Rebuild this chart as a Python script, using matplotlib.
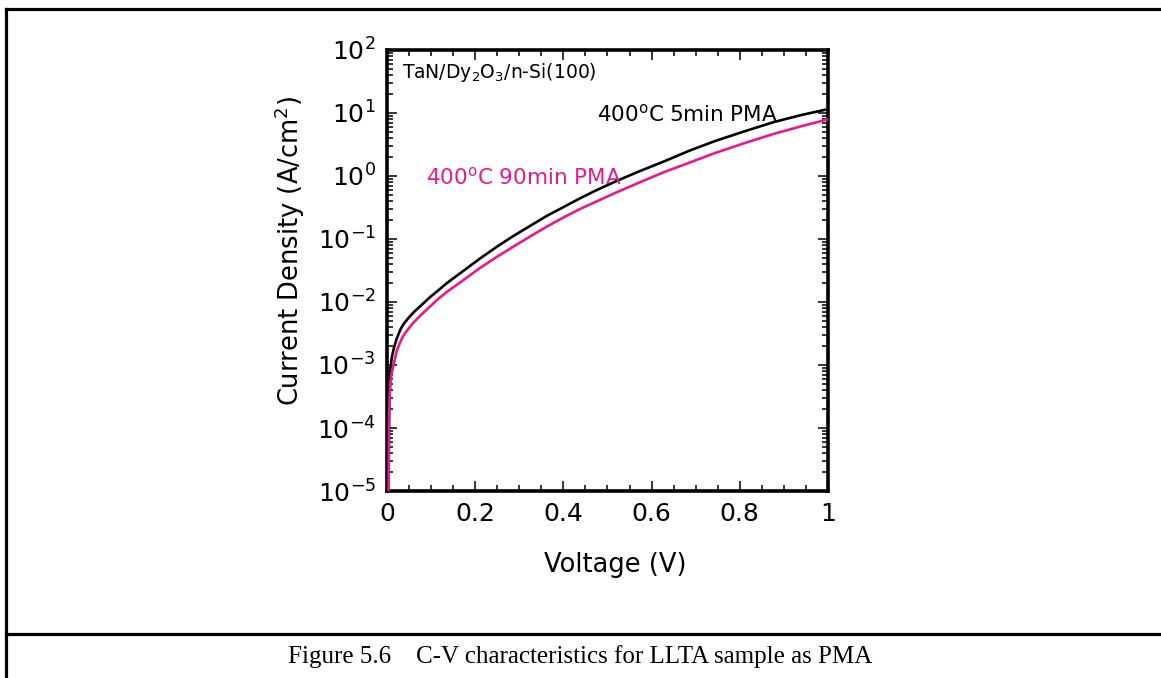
import matplotlib
matplotlib.use("Agg")
import matplotlib.pyplot as plt
from matplotlib.lines import Line2D
from matplotlib.ticker import LogLocator, MultipleLocator, FixedLocator, NullFormatter

# Measured J-V data for the two PMA conditions
v_5min = [0.0035, 0.005, 0.008, 0.011, 0.016, 0.022, 0.030, 0.037, 0.048, 0.060,
          0.078, 0.098, 0.115, 0.136, 0.17, 0.211, 0.25, 0.287, 0.325, 0.363,
          0.40, 0.439, 0.475, 0.514, 0.57, 0.628, 0.685, 0.742, 0.81, 0.878,
          0.94, 1.0]
j_5min = [1e-5, 2e-4, 8.9e-4, 1.32e-3, 1.9e-3, 2.6e-3, 3.6e-3, 4.4e-3, 5.5e-3, 6.8e-3,
          8.9e-3, 1.2e-2, 1.5e-2, 2.0e-2, 3.0e-2, 4.9e-2, 7.6e-2, 0.112, 0.162, 0.234,
          0.32, 0.447, 0.595, 0.794, 1.17, 1.70, 2.51, 3.55, 5.1, 7.2,
          9.3, 11.5]

v_90min = [0.0038, 0.0045, 0.006, 0.008, 0.011, 0.015, 0.022, 0.030, 0.037, 0.048,
           0.060, 0.078, 0.098, 0.115, 0.136, 0.17, 0.211, 0.25, 0.287, 0.325,
           0.363, 0.40, 0.439, 0.475, 0.514, 0.57, 0.628, 0.685, 0.742, 0.81,
           0.878, 0.94, 1.0]
j_90min = [1e-5, 1e-4, 3.2e-4, 5.5e-4, 7.6e-4, 1.0e-3, 1.66e-3, 2.3e-3, 2.9e-3, 3.7e-3,
           4.7e-3, 6.3e-3, 8.5e-3, 1.1e-2, 1.45e-2, 2.14e-2, 3.47e-2, 5.25e-2, 7.59e-2, 0.110,
           0.158, 0.219, 0.302, 0.394, 0.525, 0.776, 1.15, 1.62, 2.29, 3.31,
           4.68, 6.17, 7.94]

x_ticks = [0, 0.2, 0.4, 0.6, 0.8, 1.0]
x_tick_labels = ["0", "0.2", "0.4", "0.6", "0.8", "1"]
y_exponents = [-5, -4, -3, -2, -1, 0, 1, 2]

PINK = "#E8198C"
SANS = "DejaVu Sans"

plt.rcParams["font.family"] = [SANS]
plt.rcParams["mathtext.default"] = "regular"

fig = plt.figure(figsize=(11.61, 6.78), dpi=100)

# Page frame: left and top rules plus the caption separator
for (xs, ys) in [([0.0052, 0.0052], [0.0, 0.987]),
                 ([0.0052, 1.0], [0.987, 0.987]),
                 ([0.0052, 1.0], [0.065, 0.065])]:
    fig.add_artist(Line2D(xs, ys, transform=fig.transFigure, color="black", lw=2.3))

fig.text(0.5, 0.032, "Figure 5.6    C-V characteristics for LLTA sample as PMA",
         ha="center", va="center", fontsize=18, family="Liberation Serif")

ax = fig.add_axes([0.3333, 0.2758, 0.3799, 0.6505])
ax.plot(v_5min, j_5min, color="black", lw=1.9, zorder=3)
ax.plot(v_90min, j_90min, color=PINK, lw=1.9, zorder=4)

ax.set_yscale("log")
ax.set_xlim(0, 1)
ax.set_ylim(1e-5, 1e2)

ax.xaxis.set_major_locator(FixedLocator(x_ticks))
ax.set_xticklabels(x_tick_labels)
ax.xaxis.set_minor_locator(MultipleLocator(0.05))
ax.yaxis.set_major_locator(FixedLocator([10.0 ** e for e in y_exponents]))
ax.set_yticklabels([r"$10^{%d}$" % e for e in y_exponents])
ax.yaxis.set_minor_locator(LogLocator(base=10, subs=range(2, 10), numticks=20))
ax.yaxis.set_minor_formatter(NullFormatter())

ax.tick_params(which="both", direction="in", top=True, right=True, width=1.1)
ax.tick_params(which="major", length=7, labelsize=18, pad=8)
ax.tick_params(which="minor", length=4)
for s in ax.spines.values():
    s.set_linewidth(2.6)

ax.set_xlabel("Voltage (V)", fontsize=18.5)
ax.xaxis.set_label_coords(0.517, -0.138)
ax.set_ylabel("Current Density (A/cm$^{2}$)", fontsize=18.5)
ax.yaxis.set_label_coords(-0.181, 0.544)

ax.text(0.035, 0.95, "TaN/Dy$_{2}$O$_{3}$/n-Si(100)", transform=ax.transAxes,
        fontsize=13.5, ha="left", va="center")
ax.text(0.477, 0.855, "400$^{o}$C 5min PMA", transform=ax.transAxes,
        fontsize=15.5, ha="left", va="center", color="black")
ax.text(0.088, 0.712, "400$^{o}$C 90min PMA", transform=ax.transAxes,
        fontsize=15.5, ha="left", va="center", color=PINK)

fig.savefig("out.png", dpi=100)
